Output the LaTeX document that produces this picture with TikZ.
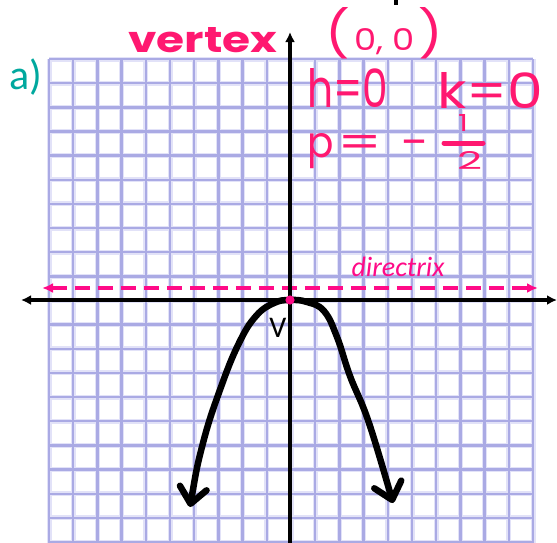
\documentclass[tikz,border=0pt]{standalone}
\usepackage{fontspec}
\usepackage{graphicx}
\usetikzlibrary{arrows.meta}
\setmainfont{Carlito}
\newfontfamily\hand{Poppins}
\definecolor{gridcore}{RGB}{170,170,228}
\definecolor{gridhalo}{RGB}{226,226,248}
\definecolor{ink}{RGB}{255,24,112}
\definecolor{dirc}{RGB}{255,10,135}
\definecolor{labteal}{RGB}{0,168,158}
\tikzset{
  halo/.style={gridhalo, line width=5pt},
  gline/.style={gridcore, line width=2.4pt},
  axis/.style={black, line width=4pt, {Latex[length=10pt,width=10pt]}-{Latex[length=10pt,width=10pt]}},
  yaxis/.style={black, line width=4pt, -{Latex[length=10pt,width=10pt]}},
  directrix/.style={dirc, line width=3.6pt, dash pattern=on 15pt off 8pt,
     {Latex[length=11pt,width=10pt]}-{Latex[length=11pt,width=10pt]}},
  curve/.style={black, line width=6.5pt, line cap=round, line join=round,
     {Straight Barb[length=16pt,width=27pt,round]}-{Straight Barb[length=16pt,width=28pt,round]}},
  hw/.style={ink, inner sep=0pt, anchor=base west},
}
\begin{document}
\begin{tikzpicture}[x=1pt,y=-1pt]
\useasboundingbox (0,0) rectangle (557,542);
\fill[white] (0,0) rectangle (557,542);
% grid
\foreach \i in {0,...,20}{
  \draw[halo] ({49+24.2*\i},59) -- ({49+24.2*\i},545);
  \draw[halo] (49,{59+24.15*\i}) -- (533,{59+24.15*\i});
}
\foreach \i in {0,...,20}{
  \draw[gline] ({49+24.2*\i},59) -- ({49+24.2*\i},545);
  \draw[gline] (49,{59+24.15*\i}) -- (533,{59+24.15*\i});
}
% coordinates
\coordinate (xl) at (21,300);
\coordinate (xr) at (557,300);
\coordinate (yt) at (290,32);
\coordinate (yb) at (290,545);
\coordinate (dl) at (42,288);
\coordinate (dr) at (538,288);
\coordinate (V) at (290,300);
% directrix
\draw[directrix] (dl) -- (dr);
% axes
\draw[axis] (xl) -- (xr);
\draw[yaxis] (yb) -- (yt);
% cut-off mark at the top
\draw[black, line width=4pt] (395.5,0) -- (395.5,5);
% parabola
\draw[curve] plot[smooth, tension=0.7] coordinates {
  (190,507) (203,443) (221,387) (239,343) (256,316) (274,303) (290,300)
  (307,302) (324,311) (337,337) (350,376) (369,423) (393,503)};
% vertex dot
\fill[dirc] (V) circle (4.6pt);
% labels
\node[labteal, inner sep=0pt, anchor=base west, font=\fontsize{42}{42}\selectfont] (lab) at (9,89) {a)};
\node[black, inner sep=0pt, anchor=base, font=\fontsize{30}{30}\selectfont] (vlab) at (278,337) {V};
\node[dirc, inner sep=0pt, anchor=base, font=\fontsize{28}{28}\selectfont\itshape] (dlab) at (398,276) {directrix};
% handwriting
\node[hw] (vert) at (128,52) {\resizebox{149pt}{25pt}{\hand\bfseries vertex}};
\node[hw] (pt) at (325,50) {\resizebox{118pt}{43pt}{\hand(\hspace{0.08em}\scalebox{0.65}{0,\hspace{0.25em}0}\hspace{0.08em})}};
\node[hw] (h) at (307,107) {\resizebox{81pt}{39pt}{\hand h=0}};
\node[hw] (k) at (437,108) {\resizebox{106pt}{36pt}{\hand k=0}};
\node[hw] (p) at (307,157) {\resizebox{121pt}{24pt}{\hand p\hspace{0.1em}\scalebox{1.6}[1]{=}\hspace{0.45em}\scalebox{1.3}[1]{−}}};
\node[hw] (one) at (458,131) {\resizebox{10pt}{17pt}{\hand 1}};
\node[hw] (two) at (457,169) {\resizebox{25pt}{18pt}{\hand 2}};
\draw[ink, line width=5pt, line cap=round] (444,143) -- (483,143);
\end{tikzpicture}
\end{document}
